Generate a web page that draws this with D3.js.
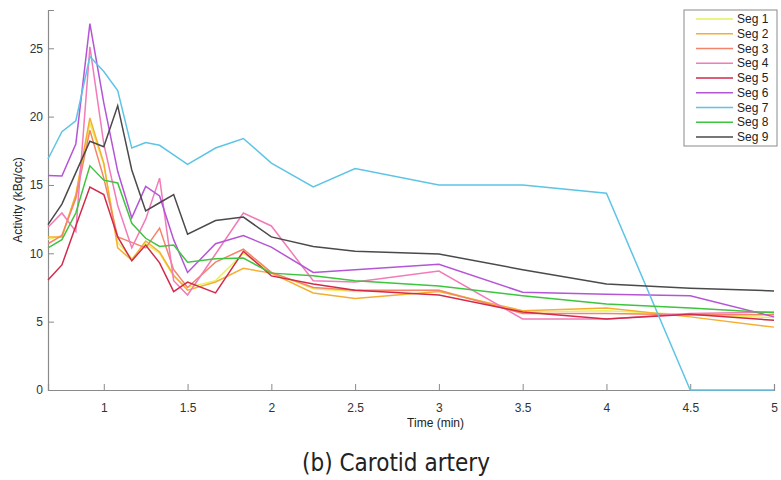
<!DOCTYPE html>
<html>
<head>
<meta charset="utf-8">
<script src="https://cdn.jsdelivr.net/npm/d3@7"></script>
<style>
  body { margin: 0; background: #fff; }
  svg text { font-family: "Liberation Sans", Arial, sans-serif; }
</style>
</head>
<body>
<div id="chart"></div>
<script>
// frame times (min)
const times = [0.667, 0.75, 0.833, 0.917, 1.0, 1.083, 1.167, 1.25, 1.333, 1.417, 1.5,
               1.667, 1.833, 2.0, 2.25, 2.5, 3.0, 3.5, 4.0, 4.5, 5.0];

const seg1 = [11.0, 11.3, 14.2, 19.5, 16.5, 10.8, 9.6, 10.7, 10.0, 8.3, 7.5, 8.0, 10.0, 8.6, 7.4, 7.2, 7.3, 5.7, 5.8, 5.5, 5.3];
const seg2 = [11.2, 11.2, 14.3, 19.9, 16.6, 10.4, 9.5, 10.9, 10.1, 8.4, 7.3, 7.9, 8.9, 8.55, 7.1, 6.7, 7.2, 5.8, 6.0, 5.35, 4.6];
const seg3 = [10.7, 11.3, 14.0, 19.0, 15.5, 11.2, 10.8, 10.4, 11.85, 8.8, 7.5, 9.35, 10.3, 8.6, 7.5, 7.3, 7.3, 5.6, 5.6, 5.5, 5.5];
const seg4 = [11.9, 12.95, 11.6, 25.1, 18.0, 13.5, 10.4, 12.5, 15.5, 8.0, 6.95, 9.95, 12.95, 12.0, 8.0, 7.9, 8.7, 5.2, 5.2, 5.6, 5.7];
const seg5 = [8.05, 9.15, 12.0, 14.85, 14.3, 11.2, 9.45, 10.6, 9.3, 7.2, 7.9, 7.1, 10.15, 8.35, 7.75, 7.3, 6.95, 5.7, 5.2, 5.55, 5.1];
const seg6 = [15.7, 15.65, 18.0, 26.8, 21.0, 16.0, 12.6, 14.9, 14.2, 11.0, 8.6, 10.7, 11.3, 10.45, 8.6, 8.8, 9.2, 7.15, 7.0, 6.9, 5.35];
const seg7 = [16.9, 18.9, 19.7, 24.4, 23.3, 21.9, 17.7, 18.1, 17.9, 17.2, 16.5, 17.7, 18.4, 16.6, 14.85, 16.2, 15.0, 15.0, 14.4, 0, 0];
const seg8 = [10.4, 11.0, 12.95, 16.4, 15.35, 15.15, 12.2, 11.1, 10.5, 10.6, 9.35, 9.6, 9.65, 8.55, 8.35, 8.0, 7.6, 6.9, 6.3, 6.0, 5.65];
const seg9 = [12.1, 13.6, 15.9, 18.2, 17.8, 20.8, 16.1, 13.1, 13.7, 14.3, 11.4, 12.4, 12.65, 11.2, 10.5, 10.15, 9.95, 8.8, 7.75, 7.45, 7.25];

const segNames = ["Seg 1", "Seg 2", "Seg 3", "Seg 4", "Seg 5", "Seg 6", "Seg 7", "Seg 8", "Seg 9"];
const segColors = ["#e6f25a", "#f5ae32", "#f5836a", "#f27bb8", "#d22a4a", "#b455d6", "#5ec4e6", "#3fc43f", "#4a4a4a"];
const segValues = [seg1, seg2, seg3, seg4, seg5, seg6, seg7, seg8, seg9];

const xTicks = [1, 1.5, 2, 2.5, 3, 3.5, 4, 4.5, 5];
const yTicks = [0, 5, 10, 15, 20, 25];

const width = 781, height = 480;
const margin = { top: 10, right: 7, bottom: 90, left: 48 };

const svg = d3.select("#chart").append("svg")
  .attr("width", width)
  .attr("height", height);

const x = d3.scaleLinear()
  .domain([0.667, 5])
  .range([margin.left, width - margin.right]);

const y = d3.scaleLinear()
  .domain([0, 27.8])
  .range([height - margin.bottom, margin.top]);

// axes (ticks inward, like matlab)
const xAxis = svg.append("g")
  .attr("transform", `translate(0,${height - margin.bottom})`)
  .call(d3.axisBottom(x).tickValues(xTicks).tickSize(-6).tickPadding(13).tickFormat(d3.format("")));

const yAxis = svg.append("g")
  .attr("transform", `translate(${margin.left},0)`)
  .call(d3.axisLeft(y).tickValues(yTicks).tickSize(-6).tickPadding(5));

[xAxis, yAxis].forEach(g => {
  g.select(".domain").attr("stroke", "#8a8a8a").attr("stroke-width", 1.2);
  g.selectAll(".tick line").attr("stroke", "#8a8a8a");
  g.selectAll(".tick text").attr("fill", "#333").style("font-size", "12px");
});

const line = d3.line()
  .x((d, i) => x(times[i]))
  .y(d => y(d));

svg.append("g")
  .selectAll("path")
  .data(segValues)
  .join("path")
    .attr("fill", "none")
    .attr("stroke", (d, i) => segColors[i])
    .attr("stroke-width", 1.5)
    .attr("d", line);

// axis labels
svg.append("text")
  .attr("x", x(2.98))
  .attr("y", 427)
  .attr("text-anchor", "middle")
  .attr("fill", "#222")
  .style("font-size", "12px")
  .style("font-stretch", "condensed")
  .text("Time (min)");

svg.append("text")
  .attr("transform", `translate(22,200) rotate(-90)`)
  .attr("text-anchor", "middle")
  .attr("fill", "#222")
  .style("font-size", "12px")
  .text("Activity (kBq/cc)");

// caption
svg.append("text")
  .attr("x", 396)
  .attr("y", 471)
  .attr("text-anchor", "middle")
  .attr("fill", "#222")
  .style("font-family", "'DejaVu Sans', sans-serif")
  .style("font-stretch", "condensed")
  .style("font-size", "24px")
  .text("(b) Carotid artery");

// legend
const lg = svg.append("g").attr("transform", "translate(684,10)");
lg.append("rect")
  .attr("width", 93)
  .attr("height", 136)
  .attr("fill", "#fff")
  .attr("stroke", "#8a8a8a");

const item = lg.selectAll("g.item")
  .data(segNames)
  .join("g")
    .attr("class", "item")
    .attr("transform", (d, i) => `translate(0,${9 + i * 14.75})`);

item.append("line")
  .attr("x1", 12).attr("x2", 49)
  .attr("stroke", (d, i) => segColors[i])
  .attr("stroke-width", 1.5);

item.append("text")
  .attr("x", 53)
  .attr("dy", "0.35em")
  .attr("fill", "#222")
  .style("font-size", "12px")
  .text(d => d);
</script>
</body>
</html>
